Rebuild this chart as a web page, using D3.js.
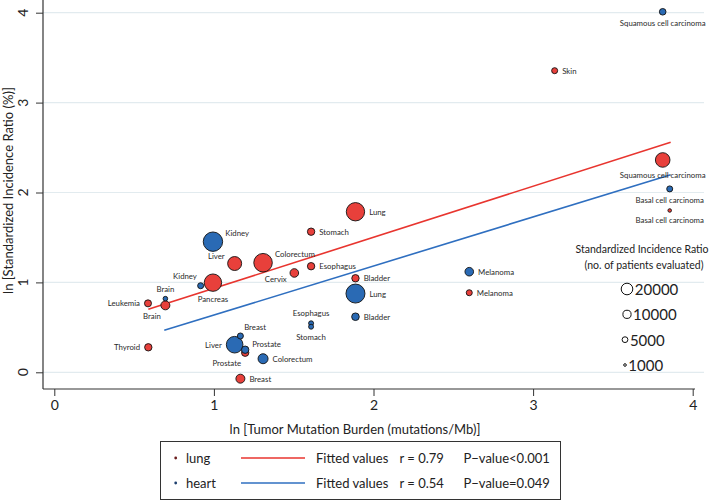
<!DOCTYPE html>
<html>
<head>
<meta charset="utf-8">
<script src="https://cdn.jsdelivr.net/npm/d3@7"></script>
<style>
  html, body { margin: 0; padding: 0; background: #fff; }
  svg { display: block; font-family: Lato, "Noto Sans", sans-serif; }
</style>
</head>
<body>
<svg id="chart" width="709" height="502"></svg>
<script>
// ---- data ----
const xTicks = [0, 1, 2, 3, 4];
const yTicks = [0, 1, 2, 3, 4];

// "lung" series (red)
const lungCancers = ["Leukemia","Brain","Thyroid","Pancreas","Liver","Colorectum","Cervix","Esophagus","Stomach","Lung","Bladder","Prostate","Breast","Skin","Melanoma","Squamous cell carcinoma","Basal cell carcinoma"];
const lungTMB = [0.587,0.696,0.589,0.994,1.130,1.308,1.504,1.609,1.609,1.887,1.887,1.196,1.166,3.135,2.600,3.812,3.856];
const lungSIR = [0.767,0.745,0.278,0.997,1.210,1.219,1.105,1.180,1.564,1.786,1.046,0.218,-0.071,3.355,0.885,2.362,1.800];
const lungN = [7300,12000,8100,45000,29000,51000,11000,8100,8100,50000,8100,8100,12000,5400,5400,31700,1900];
const lungLabelPos = [9,7,9,6,10,2,8,3,3,3,3,7,3,3,3,6,6];

// "heart" series (blue)
const heartCancers = ["Kidney","Kidney","Brain","Liver","Breast","Prostate","Colorectum","Esophagus","Stomach","Lung","Bladder","Melanoma","Squamous cell carcinoma","Basal cell carcinoma"];
const heartTMB = [0.994,0.917,0.696,1.130,1.166,1.196,1.308,1.609,1.609,1.887,1.887,2.600,3.812,3.856];
const heartSIR = [1.453,0.963,0.819,0.307,0.404,0.251,0.151,0.545,0.507,0.876,0.618,1.119,4.010,2.040];
const heartN = [56000,5400,3150,41000,5400,8100,14900,3700,3700,53700,8600,11000,6500,5400];
const heartLabelPos = [2,11,12,9,1,2,3,12,6,3,3,3,6,6];

// fitted lines (end points)
const lungFitX = [0.589, 3.862];
const lungFitY = [0.701, 2.559];
const heartFitX = [0.689, 3.862];
const heartFitY = [0.467, 2.198];

const sizeLegendValues = [20000, 10000, 5000, 1000];
const legendRows = [
  { name: "lung", fit: "Fitted values", r: "r = 0.79", p: "P\u2212value<0.001" },
  { name: "heart", fit: "Fitted values", r: "r = 0.54", p: "P\u2212value=0.049" }
];

// ---- styles ----
const RED = "#e8403b", BLUE = "#2a6ab4";
const RED_LINE = "#e8352f", BLUE_LINE = "#2f6fc0";
const GRID = "#e2ebef";
const FONT = "Lato, sans-serif";

const svg = d3.select("#chart");
const x = d3.scaleLinear().domain([0, 4]).range([54.3, 692.7]);
const y = d3.scaleLinear().domain([0, 4]).range([372.3, 12.7]);
const rScale = d3.scaleSqrt().domain([0, 20000]).range([0, 5.8]);

const axisX0 = 43, axisY0 = 389;

// gridlines
svg.append("g").selectAll("line").data(yTicks).join("line")
  .attr("x1", axisX0).attr("x2", 704)
  .attr("y1", d => y(d)).attr("y2", d => y(d))
  .attr("stroke", GRID).attr("stroke-width", 1.2);

// y axis (ticks from d3 axis, rotated labels)
const gy = svg.append("g").attr("transform", `translate(${axisX0},0)`)
  .call(d3.axisLeft(y).tickValues(yTicks).tickSize(7).tickFormat(d3.format("d")));
gy.select(".domain").remove();
gy.selectAll(".tick line").attr("stroke", "#333");
gy.selectAll(".tick text").remove();
svg.append("g").selectAll("text").data(yTicks).join("text")
  .attr("transform", d => `translate(22,${y(d)}) rotate(-90)`)
  .attr("text-anchor", "middle").attr("dominant-baseline", "central")
  .style("font-size", "14px").style("font-family", FONT).attr("fill", "#222")
  .text(d3.format("d"));
svg.append("line").attr("x1", axisX0).attr("x2", axisX0).attr("y1", 0).attr("y2", axisY0)
  .attr("stroke", "#333").attr("stroke-width", 1.2);

// x axis
const gx = svg.append("g").attr("transform", `translate(0,${axisY0})`)
  .call(d3.axisBottom(x).tickValues(xTicks).tickSize(7).tickPadding(4).tickFormat(d3.format("d")));
gx.select(".domain").remove();
gx.selectAll(".tick line").attr("stroke", "#333");
gx.selectAll(".tick text")
  .style("font-size", "14px").style("font-family", FONT).attr("fill", "#222");
svg.append("line").attr("x1", axisX0).attr("x2", 695).attr("y1", axisY0).attr("y2", axisY0)
  .attr("stroke", "#333").attr("stroke-width", 1.2);

// axis titles
svg.append("text").attr("transform", `translate(8,190.5) rotate(-90)`)
  .attr("text-anchor", "middle").attr("dominant-baseline", "central")
  .style("font-size", "13px").attr("fill", "#222")
  .text("ln [Standardized Incidence Ratio (%)]");
svg.append("text").attr("x", 355).attr("y", 429)
  .attr("text-anchor", "middle").attr("dominant-baseline", "central")
  .style("font-size", "13px").attr("fill", "#222")
  .text("ln [Tumor Mutation Burden (mutations/Mb)]");

// fitted lines
const line = d3.line().x(d => x(d[0])).y(d => y(d[1]));
svg.append("path").datum(d3.zip(lungFitX, lungFitY)).attr("d", line)
  .attr("fill", "none").attr("stroke", RED_LINE).attr("stroke-width", 1.6);
svg.append("path").datum(d3.zip(heartFitX, heartFitY)).attr("d", line)
  .attr("fill", "none").attr("stroke", BLUE_LINE).attr("stroke-width", 1.6);

// points
function buildSeries(names, xs, ys, ns, pos, color) {
  return names.map((n, i) => ({ name: n, x: xs[i], y: ys[i], n: ns[i], pos: pos[i], color }));
}
const lungData = buildSeries(lungCancers, lungTMB, lungSIR, lungN, lungLabelPos, RED);
const heartData = buildSeries(heartCancers, heartTMB, heartSIR, heartN, heartLabelPos, BLUE);

function drawSeries(data) {
  const sorted = data.slice().sort((a, b) => b.n - a.n);
  svg.append("g").selectAll("circle").data(sorted).join("circle")
    .attr("cx", d => x(d.x)).attr("cy", d => y(d.y)).attr("r", d => rScale(d.n))
    .attr("fill", d => d.color).attr("stroke", "#111").attr("stroke-width", 0.9);
}
drawSeries(lungData);
drawSeries(heartData);

// labels by clock position
function drawLabels(data) {
  const gap = 4.5, halfH = 3.3;
  data.forEach(d => {
    const r = rScale(d.n);
    const th = d.pos * Math.PI / 6;
    const dx = Math.sin(th), dy = -Math.cos(th);
    const ax = x(d.x) + dx * (r + gap);
    const ay = y(d.y) + dy * (r + gap) + dy * halfH;
    const anchor = dx > 0.1 ? "start" : (dx < -0.1 ? "end" : "middle");
    svg.append("text").attr("x", ax).attr("y", ay)
      .attr("text-anchor", anchor).attr("dominant-baseline", "central")
      .style("font-size", "7.8px").attr("fill", "#2a2a2a").text(d.name);
  });
}
drawLabels(lungData);
drawLabels(heartData);

// size legend
const sl = svg.append("g");
sl.append("text").attr("x", 642).attr("y", 249).attr("text-anchor", "middle")
  .attr("dominant-baseline", "central").style("font-size", "10.5px").attr("fill", "#222")
  .text("Standardized Incidence Ratio");
sl.append("text").attr("x", 644).attr("y", 264.5).attr("text-anchor", "middle")
  .attr("dominant-baseline", "central").style("font-size", "10.5px").attr("fill", "#222")
  .text("(no. of patients evaluated)");
const slY = d3.scalePoint().domain(sizeLegendValues).range([289, 365]);
sizeLegendValues.forEach(v => {
  const r = rScale(v);
  const cx = 627 - (v < 10000 ? 2 : 0);
  sl.append("circle").attr("cx", cx).attr("cy", slY(v)).attr("r", r)
    .attr("fill", "none").attr("stroke", "#111").attr("stroke-width", 1);
  sl.append("text").attr("x", cx + r + 2).attr("y", slY(v))
    .attr("dominant-baseline", "central").style("font-size", "15px").attr("fill", "#222")
    .text(v);
});

// bottom legend box
const lg = svg.append("g");
lg.append("rect").attr("x", 160.5).attr("y", 441.5).attr("width", 400).attr("height", 58)
  .attr("fill", "#fff").attr("stroke", "#333").attr("stroke-width", 1);
const rowY = d3.scalePoint().domain(legendRows.map(d => d.name)).range([458, 483]);
const dotColors = ["#6b1d1d", "#1d3f6e"];
const lineColors = [RED_LINE, BLUE_LINE];
legendRows.forEach((d, i) => {
  const yy = rowY(d.name);
  lg.append("circle").attr("cx", 175.7).attr("cy", yy).attr("r", 1.4).attr("fill", dotColors[i]);
  lg.append("text").attr("x", 186).attr("y", yy).attr("dominant-baseline", "central")
    .style("font-size", "13px").attr("fill", "#222").text(d.name);
  lg.append("line").attr("x1", 241).attr("x2", 305).attr("y1", yy).attr("y2", yy)
    .attr("stroke", lineColors[i]).attr("stroke-width", 1.5);
  lg.append("text").attr("x", 316).attr("y", yy).attr("dominant-baseline", "central")
    .style("font-size", "13px").attr("fill", "#222").text(d.fit);
  lg.append("text").attr("x", 399.5).attr("y", yy).attr("dominant-baseline", "central")
    .style("font-size", "13px").attr("fill", "#222").text(d.r);
  lg.append("text").attr("x", 463.5).attr("y", yy).attr("dominant-baseline", "central")
    .style("font-size", "13px").attr("fill", "#222").text(d.p);
});
</script>
</body>
</html>
